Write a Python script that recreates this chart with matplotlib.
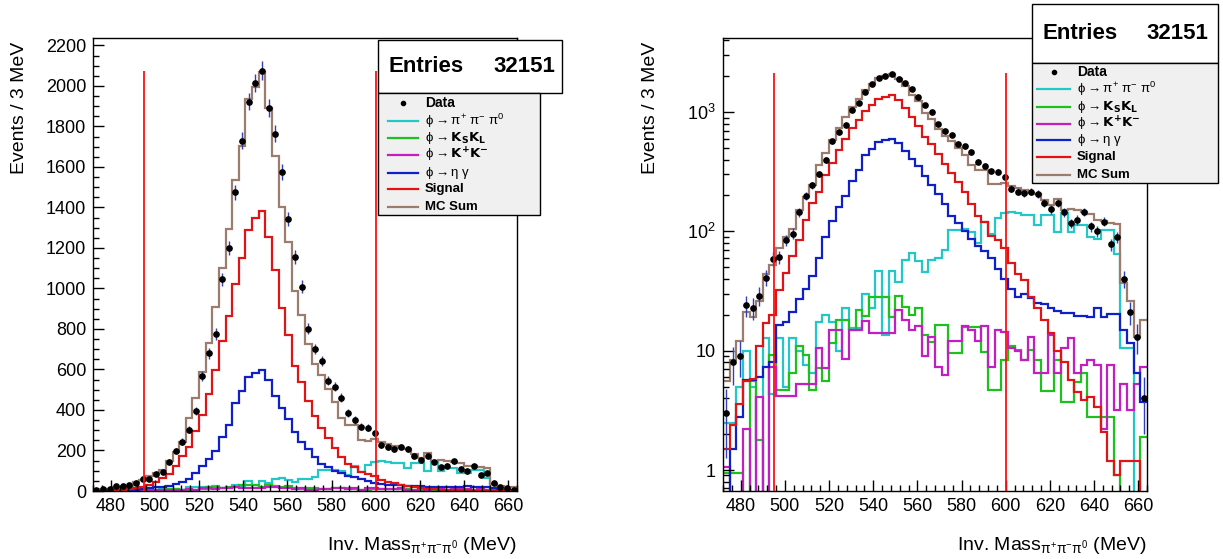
import numpy as np
import matplotlib.pyplot as plt
from matplotlib.patches import Rectangle
from matplotlib.lines import Line2D
from matplotlib.ticker import MultipleLocator, FixedLocator, LogLocator, NullFormatter

plt.rcParams['font.family'] = ['Liberation Sans', 'DejaVu Sans']
plt.rcParams['mathtext.default'] = 'regular'

# 64 bins of 3 MeV
edges = np.arange(472, 665, 3)
centers = edges[:-1] + 1.5

data_counts = [3, 8, 9, 24, 23, 29, 41, 59, 61, 84, 96, 145, 198, 244, 302, 397, 568, 680, 775, 1045,
               1198, 1475, 1730, 1923, 2016, 2076, 1890, 1763, 1574, 1343, 1157, 1009, 802, 701, 642, 545,
               515, 461, 384, 351, 318, 313, 285, 228, 216, 208, 215, 206, 174, 153, 174, 145, 117, 125,
               146, 110, 100, 121, 78, 89, 40, 21, 13, 4]
mc_sum = [5.6, 8.4, 12, 21, 19, 26, 44, 52, 72, 90, 104, 150, 195, 244, 359, 458, 586, 729, 910, 1103,
          1294, 1536, 1704, 1936, 1997, 2067, 1890, 1656, 1404, 1228, 989, 869, 726, 627, 573, 505,
          441, 359, 326, 326, 250, 248, 255, 240, 230, 222, 210, 205, 185, 165, 186, 150, 155, 150,
          145, 140, 125, 122, 118, 115, 37, 26, 13, 18]
signal = [1.5, 2.4, 3.6, 5.6, 5.8, 11, 17, 20, 32, 45, 62, 85, 125, 172, 215, 296, 375, 477, 598, 742,
          864, 1022, 1152, 1290, 1347, 1384, 1253, 1091, 902, 771, 617, 537, 444, 368, 311, 262,
          214, 170, 134, 120, 92, 85, 72, 54, 44, 39, 28, 23, 18, 14, 10, 8, 5.7, 4.5,
          3.9, 4.1, 3.4, 2.1, 1.2, 0.9, 1.2, 1.2, 1.2, 0]
eta_gamma = [0, 1.5, 2.8, 5.7, 5.7, 6, 7.3, 8.1, 16.5, 17.5, 21, 27, 33, 42, 60, 90, 123, 160, 199, 265,
             326, 433, 495, 561, 585, 598, 548, 469, 408, 355, 293, 244, 206, 170, 134, 117,
             100, 87, 75, 68, 60, 48, 40, 33, 28, 30, 27.5, 25, 24.5, 22.7, 21.5, 20.6, 20.6, 19.5,
             19.5, 19.3, 22.7, 19.3, 20.2, 20.2, 15, 11.5, 6.5, 3.7]
pi3 = [2.5, 2.5, 5, 10, 5, 0, 12.7, 4.3, 12.7, 5, 12.7, 10, 7.6, 6.5, 17.5, 20, 17.5, 10, 22.7, 15.4,
       15.4, 30, 22.7, 47, 13.5, 47, 38, 58, 66, 56, 46, 58, 60, 70, 103, 103,
       104, 98, 80, 121, 96, 129, 142, 146, 142, 137, 137, 113, 137, 137, 99.5, 144, 99.5, 113,
       113, 90, 87, 103, 103, 65, 10.5, 10.5, 0, 0]
kskl = [0.94, 0.94, 0.94, 0, 5.6, 1.8, 0, 9.2, 4.7, 4.7, 6.5, 11, 9.2, 4.7, 7.2, 5.6, 11.5, 18, 18, 15,
        22, 19.4, 28, 28, 28, 19.3, 29, 23.4, 20, 22.7, 13.6, 11.9, 16.4, 16.4, 9.6, 9.6,
        15.7, 15.7, 15.7, 9.8, 4.7, 4.7, 8.4, 11, 10.1, 8.4, 10.1, 8.4, 4.6, 4.6, 8.4, 3.7, 3.7, 5.5,
        6.5, 2.8, 2.8, 2.8, 2.8, 0.9, 0, 0, 0, 1.9]
kpkm = [1.07, 0, 0, 2.2, 0, 4.1, 0, 7.3, 4.2, 4.2, 4.2, 5.3, 5.3, 5.3, 10.5, 7.1, 14.9, 14.9, 8.6, 14.9,
        15, 17.8, 14, 14, 14, 14, 22, 18, 15, 16, 9, 13, 7.3, 6.3, 12, 12,
        16, 15, 12, 16, 7.3, 15, 14.4, 10.5, 10, 8.4, 13, 6.5, 6.5, 13.5, 6.5, 10.5, 12.7, 6.5,
        7.6, 8.4, 7.6, 2.2, 7.6, 3.2, 5.3, 3.2, 5.3, 7.3]

cuts = [495, 600]
entries = 32151

series = [
    (pi3, '#22c8c8', r'ϕ$\rightarrow$π$^{+}$ π$^{-}$ π$^{0}$', 'normal'),
    (kskl, '#1ec01e', r'ϕ$\rightarrow$$\mathbf{K_{S}K_{L}}$', 'normal'),
    (kpkm, '#c21ec2', r'ϕ$\rightarrow$$\mathbf{K^{+}K^{-}}$', 'normal'),
    (eta_gamma, '#1020c8', r'ϕ$\rightarrow$η γ', 'normal'),
    (signal, '#e01414', 'Signal', 'bold'),
    (mc_sum, '#9c7c6c', 'MC Sum', 'bold'),
]

W, H = 1223, 559
fig = plt.figure(figsize=(W / 100, H / 100), dpi=100)


def fx(x):
    return x / W


def fy(y):
    return 1 - y / H


def draw_panel(ax, log):
    for vals, color, _, _ in series:
        v = np.array(vals, dtype=float)
        if log:
            v = np.where(v > 0, v, 1e-3)
        ax.stairs(v, edges, color=color, lw=1.6, baseline=None)
    counts = np.array(data_counts, dtype=float)
    ax.errorbar(centers, counts, yerr=np.sqrt(counts), fmt='o', color='black', ms=3.8,
                ecolor='#3040b8', elinewidth=1.0, capsize=0, zorder=5)
    ymin = 0 if not log else 0.3
    ax.vlines(cuts, ymin, max(data_counts) * (1 if not log else 1.02), color='#ff1010', lw=1.3, zorder=6)
    ax.set_xlim(472, 664)
    ax.xaxis.set_major_locator(MultipleLocator(20))
    ax.xaxis.set_minor_locator(MultipleLocator(4))
    if log:
        ax.set_yscale('log')
        ax.set_ylim(0.667, 4180)
        ax.yaxis.set_major_locator(FixedLocator([1, 10, 100, 1000]))
        ax.set_yticklabels(['1', '10', r'$10^{2}$', r'$10^{3}$'])
        ax.yaxis.set_minor_locator(LogLocator(base=10, subs=range(2, 10)))
        ax.yaxis.set_minor_formatter(NullFormatter())
    else:
        ax.set_ylim(0, 2237)
        ax.yaxis.set_major_locator(MultipleLocator(200))
        ax.yaxis.set_minor_locator(MultipleLocator(50))
    ax.tick_params(which='major', direction='in', length=8, width=1, labelsize=13, pad=5)
    ax.tick_params(which='minor', direction='in', length=4, width=1)
    for s in ax.spines.values():
        s.set_linewidth(1.0)


def draw_boxes(x0, x1, x1_leg, y_top, y_mid, y_bot, rows, line_x, text_x, ent_x0, ent_x1):
    fig.add_artist(Rectangle((fx(x0), fy(y_mid)), fx(x1) - fx(x0), fy(y_top) - fy(y_mid),
                             transform=fig.transFigure, facecolor='white', edgecolor='black', lw=1, zorder=10))
    fig.text(fx(ent_x0), fy((y_top + y_mid) / 2), 'Entries', fontsize=16, fontweight='bold',
             ha='left', va='center', zorder=11)
    fig.text(fx(ent_x1), fy((y_top + y_mid) / 2), str(entries), fontsize=16, fontweight='bold',
             ha='right', va='center', zorder=11)
    fig.add_artist(Rectangle((fx(x0), fy(y_bot)), fx(x1_leg) - fx(x0), fy(y_mid) - fy(y_bot),
                             transform=fig.transFigure, facecolor='#f0f0f0', edgecolor='black', lw=1, zorder=10))
    # Data entry
    fig.add_artist(Line2D([fx((line_x[0] + line_x[1]) / 2)], [fy(rows[0])], marker='o', ms=3,
                          color='black', transform=fig.transFigure, zorder=11))
    fig.text(fx(text_x), fy(rows[0]), 'Data', fontsize=10, fontweight='bold', ha='left', va='center', zorder=11)
    for (vals, color, label, weight), y in zip(series, rows[1:]):
        fig.add_artist(Line2D([fx(line_x[0]), fx(line_x[1])], [fy(y), fy(y)], color=color, lw=1.6,
                              transform=fig.transFigure, zorder=11))
        fig.text(fx(text_x), fy(y), label, fontsize=9.5, fontweight=weight, ha='left', va='center', zorder=11)


ax1 = fig.add_axes([fx(93), fy(491), fx(517) - fx(93), fy(38) - fy(491)])
draw_panel(ax1, log=False)
ax2 = fig.add_axes([fx(723), fy(491), fx(1147) - fx(723), fy(38) - fy(491)])
draw_panel(ax2, log=True)

xlabel = r'Inv. Mass$_{π^{+}π^{-}π^{0}}$ (MeV)'
for xr, xl in [(517, 20), (1147, 650)]:
    fig.text(fx(xr), fy(545), xlabel, fontsize=14, ha='right', va='center')
    fig.text(fx(xl), fy(42), 'Events / 3 MeV', fontsize=14, rotation=90, ha='center', va='top')

draw_boxes(378, 562, 540, 40, 93, 215, [103, 121, 138, 155, 173, 189, 207], (388, 418), 425, 388, 555)
draw_boxes(1032, 1218, 1218, 4, 63, 183, [72, 89, 107, 124, 140, 157, 175], (1037, 1070), 1077, 1042, 1208)

fig.savefig('out.png', dpi=100)
